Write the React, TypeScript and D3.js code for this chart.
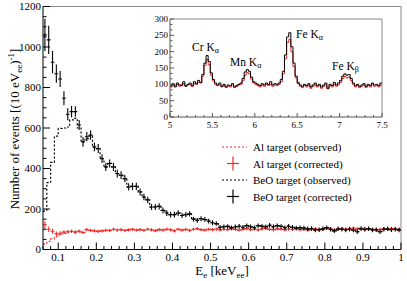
import * as d3 from 'd3'

// main spectrum: 10 eV bins from 0.06 to 1 keVee (bin centres)
const energies = d3.range(94).map((i) => +(0.065 + i * 0.01).toFixed(3))

const beoCorrected = [
  1060, 1035, 925, 868, 842, 747, 668, 681, 681, 615,
  532, 557, 565, 507, 499, 449, 408, 425, 408, 375,
  367, 350, 309, 312, 312, 284, 259, 245, 210, 210,
  213, 193, 180, 172, 172, 180, 168, 172, 176, 150,
  144, 152, 148, 140, 132, 128, 110, 112, 114, 108,
  112, 115, 110, 118, 112, 108, 118, 115, 112, 120,
  112, 118, 114, 108, 115, 110, 106, 108, 106, 102,
  104, 96, 98, 102, 108, 100, 92, 102, 100, 96,
  100, 96, 88, 104, 100, 102, 96, 98, 88, 100,
  102, 98, 100, 96,
]
const beoErrors = [
  80, 70, 55, 45, 40, 35, 30, 28, 26, 25,
  24, 23, 23, 22, 22, 21, 20, 20, 20, 19,
  19, 18, 18, 18, 18, 17, 16, 16, 15, 15,
  15, 14, 14, 14, 14, 14, 13, 13, 13, 12,
  12, 12, 12, 12, 12, 11, 11, 11, 11, 11,
  11, 11, 11, 11, 11, 11, 11, 11, 11, 11,
  11, 11, 11, 11, 11, 11, 11, 11, 11, 11,
  11, 11, 11, 11, 11, 11, 11, 11, 11, 11,
  11, 11, 11, 11, 11, 11, 11, 11, 11, 11,
  11, 11, 11, 11,
]
const beoObserved = [
  190, 330, 430, 560, 598, 600, 605, 640, 648, 600,
  530, 548, 560, 505, 497, 449, 408, 425, 408, 375,
  367, 350, 309, 312, 312, 284, 259, 245, 210, 210,
  213, 193, 180, 172, 172, 180, 168, 172, 176, 150,
  144, 152, 148, 140, 132, 128, 110, 112, 114, 108,
  112, 115, 110, 118, 112, 108, 118, 115, 112, 120,
  112, 118, 114, 108, 115, 110, 106, 108, 106, 102,
  104, 96, 98, 102, 108, 100, 92, 102, 100, 96,
  100, 96, 88, 104, 100, 102, 96, 98, 88, 100,
  102, 98, 100, 96,
]
const alCorrected = [
  122, 100, 90, 78, 80, 86, 88, 90, 86, 90,
  84, 98, 94, 92, 90, 92, 95, 94, 100, 96,
  98, 94, 97, 100, 96, 98, 95, 100, 97, 93,
  98, 96, 100, 97, 92, 100, 96, 99, 94, 100,
  103, 98, 96, 100, 98, 101, 97, 100, 98, 102,
  99, 96, 100, 103, 98, 100, 97, 101, 104, 99,
  98, 102, 100, 97, 101, 99, 103, 98, 100, 96,
  99, 102, 98, 100, 104, 101, 97, 100, 102, 99,
  104, 106, 102, 100, 98, 103, 100, 97, 100, 102,
  99, 104, 101, 100,
]
const alErrors = [
  18, 14, 12, 11, 10, 9, 9, 9, 9, 9,
  8, 8, 8, 8, 8, 8, 8, 8, 8, 8,
  8, 8, 8, 8, 8, 8, 8, 8, 8, 8,
  8, 8, 8, 8, 8, 8, 8, 8, 8, 8,
  8, 8, 8, 8, 8, 8, 8, 8, 8, 8,
  8, 8, 8, 8, 8, 8, 8, 8, 8, 8,
  8, 8, 8, 8, 8, 8, 8, 8, 8, 8,
  8, 8, 8, 8, 8, 8, 8, 8, 8, 8,
  8, 8, 8, 8, 8, 8, 8, 8, 8, 8,
  8, 8, 8, 8,
]
const alObserved = [
  28, 40, 52, 64, 72, 80, 86, 90, 86, 90,
  84, 98, 94, 92, 90, 92, 95, 94, 100, 96,
  98, 94, 97, 100, 96, 98, 95, 100, 97, 93,
  98, 96, 100, 97, 92, 100, 96, 99, 94, 100,
  103, 98, 96, 100, 98, 101, 97, 100, 98, 102,
  99, 96, 100, 103, 98, 100, 97, 101, 104, 99,
  98, 102, 100, 97, 101, 99, 103, 98, 100, 96,
  99, 102, 98, 100, 104, 101, 97, 100, 102, 99,
  104, 106, 102, 100, 98, 103, 100, 97, 100, 102,
  99, 104, 101, 100,
]

// inset: 25 eV bins from 5 to 7.5 keV (low edges)
const insetEdges = d3.range(100).map((i) => +(5 + i * 0.025).toFixed(3))
const insetBlack = [
  95, 102, 92, 104, 98, 96, 108, 94, 100, 104,
  96, 108, 102, 112, 106, 130, 165, 188, 170, 135,
  115, 104, 98, 104, 94, 100, 92, 98, 96, 102,
  92, 96, 100, 104, 118, 138, 145, 140, 122, 108,
  104, 100, 96, 102, 98, 104, 100, 108, 98, 102,
  100, 104, 115, 140, 190, 245, 258, 215, 165, 125,
  105, 98, 94, 100, 96, 102, 92, 98, 104, 96,
  100, 92, 98, 104, 88, 100, 96, 106, 98, 104,
  112, 125, 132, 128, 130, 118, 104, 96, 100, 94,
  98, 102, 94, 100, 96, 104, 98, 100, 96, 104,
]
const insetRed = [
  92, 98, 96, 100, 94, 100, 102, 96, 98, 100,
  94, 102, 100, 106, 104, 125, 158, 176, 160, 128,
  110, 100, 96, 98, 92, 96, 90, 94, 92, 98,
  90, 94, 98, 100, 112, 128, 136, 132, 116, 104,
  100, 96, 92, 98, 94, 100, 96, 100, 94, 98,
  96, 100, 108, 132, 178, 228, 238, 200, 155, 120,
  102, 94, 90, 96, 92, 98, 88, 94, 98, 92,
  96, 88, 94, 98, 86, 96, 92, 100, 94, 98,
  106, 118, 124, 120, 122, 112, 100, 92, 96, 90,
  94, 98, 90, 96, 92, 100, 94, 96, 92, 98,
]

const xTicks = [0.1, 0.2, 0.3, 0.4, 0.5, 0.6, 0.7, 0.8, 0.9, 1]
const xTickLabels = ['0.1', '0.2', '0.3', '0.4', '0.5', '0.6', '0.7', '0.8', '0.9', '1']
const yTicks = [0, 200, 400, 600, 800, 1000, 1200]
const insetXTicks = [5, 5.5, 6, 6.5, 7, 7.5]
const insetXLabels = ['5', '5.5', '6', '6.5', '7', '7.5']
const insetYTicks = [0, 50, 100, 150, 200, 250, 300]

const RED = '#ee2a2a'
const FONT = 'Liberation Serif, Times New Roman, DejaVu Serif, serif'

const W = 407
const H = 281

export default function App() {
  const x = d3.scaleLinear().domain([0.06, 1]).range([43, 401])
  const y = d3.scaleLinear().domain([0, 1200]).range([249.5, 6.5])
  const [x0, x1] = x.range()
  const [y0, y1] = y.range()

  const ix = d3.scaleLinear().domain([5, 7.5]).range([170, 382])
  const iy = d3.scaleLinear().domain([0, 300]).range([117, 19])

  const half = 0.005
  const stepLine = (vals: number[]) =>
    d3.line<number>()
      .x((_, i) => x(i < vals.length ? energies[i] - half : energies[vals.length - 1] + half))
      .y((_, i) => y(vals[Math.min(i, vals.length - 1)]))
      .curve(d3.curveStepAfter)([...vals, vals[vals.length - 1]])

  const insetLine = (vals: number[]) =>
    d3.line<number>()
      .x((_, i) => ix(i < vals.length ? insetEdges[i] : 7.5))
      .y((_, i) => iy(vals[Math.min(i, vals.length - 1)]))
      .curve(d3.curveStepAfter)([...vals, vals[vals.length - 1]])

  const crosses = (vals: number[], errs: number[], color: string, sw: number) =>
    vals.map((v, i) => (
      <g key={i} stroke={color} strokeWidth={sw}>
        <line x1={x(energies[i] - half)} x2={x(energies[i] + half)} y1={y(v)} y2={y(v)} />
        <line x1={x(energies[i])} x2={x(energies[i])} y1={y(v - errs[i])} y2={y(v + errs[i])} />
      </g>
    ))

  const xMinor = d3.range(0.06, 1.0001, 0.02).filter((t) => !xTicks.some((m) => Math.abs(m - t) < 1e-6))
  const yMinor = d3.range(0, 1201, 50).filter((t) => t % 200 !== 0)
  const ixMinor = d3.range(5, 7.5001, 0.1).filter((t) => !insetXTicks.some((m) => Math.abs(m - t) < 1e-6))
  const iyMinor = d3.range(0, 301, 50 / 3).filter((t) => Math.abs(t / 50 - Math.round(t / 50)) > 1e-6)

  const legend = [
    { label: 'Al target (observed)', color: RED, kind: 'line' },
    { label: 'Al target (corrected)', color: RED, kind: 'cross' },
    { label: 'BeO target (observed)', color: '#000', kind: 'line' },
    { label: 'BeO target (corrected)', color: '#000', kind: 'cross' },
  ]

  return (
    <svg width={W} height={H} style={{ position: 'absolute', left: 0, top: 0, background: '#fff', fontFamily: FONT }}>
      <defs>
        <clipPath id="plot">
          <rect x={x0} y={y1} width={x1 - x0} height={y0 - y1} />
        </clipPath>
      </defs>

      {/* frame */}
      <line x1={x0} x2={x1} y1={y1} y2={y1} stroke="#888" />
      <line x1={x1} x2={x1} y1={y1} y2={y0} stroke="#888" />

      <g clipPath="url(#plot)">
        <path d={stepLine(alObserved) ?? ''} fill="none" stroke={RED} strokeWidth={1.2} strokeDasharray="2,2" />
        {crosses(alCorrected, alErrors, RED, 1.1)}
        <path d={stepLine(beoObserved) ?? ''} fill="none" stroke="#000" strokeWidth={1.2} strokeDasharray="2,2" />
        {crosses(beoCorrected, beoErrors, '#000', 1.1)}
      </g>

      {/* axes */}
      <line x1={x0} x2={x1} y1={y0} y2={y0} stroke="#000" />
      <line x1={x0} x2={x0} y1={y0} y2={y1} stroke="#000" />
      {xTicks.map((t, i) => (
        <g key={t}>
          <line x1={x(t)} x2={x(t)} y1={y0} y2={y0 - 7} stroke="#000" />
          <text x={x(t)} y={y0 + 11} fontSize={11} textAnchor="middle">{xTickLabels[i]}</text>
        </g>
      ))}
      {xMinor.map((t) => (
        <line key={t} x1={x(t)} x2={x(t)} y1={y0} y2={y0 - 3.5} stroke="#000" />
      ))}
      {yTicks.map((t) => (
        <g key={t}>
          <line x1={x0} x2={x0 + 7} y1={y(t)} y2={y(t)} stroke="#000" />
          <text x={x0 - 2} y={y(t) + 3.8} fontSize={11} textAnchor="end">{t}</text>
        </g>
      ))}
      {yMinor.map((t) => (
        <line key={t} x1={x0} x2={x0 + 3.5} y1={y(t)} y2={y(t)} stroke="#000" />
      ))}

      <text transform="translate(19,129) rotate(-90)" fontSize={13} textAnchor="middle">
        Number of events [(10 eV<tspan fontSize={9} dy={3}>ee</tspan>
        <tspan dy={-3}>)</tspan><tspan fontSize={9} dy={-5}>-1</tspan><tspan dy={5}>]</tspan>
      </text>
      <text x={222} y={275} fontSize={13} textAnchor="middle">
        E<tspan fontSize={9} dy={3}>e</tspan><tspan dy={-3}> [keV</tspan>
        <tspan fontSize={9} dy={3}>ee</tspan><tspan dy={-3}>]</tspan>
      </text>

      {/* legend */}
      {legend.map((d, i) => {
        const ly = 147 + i * 16.5
        return (
          <g key={d.label}>
            {d.kind === 'line' ? (
              <line x1={222} x2={247} y1={ly} y2={ly} stroke={d.color} strokeWidth={1.2} strokeDasharray="2,2" />
            ) : (
              <g stroke={d.color} strokeWidth={1.2}>
                <line x1={227} x2={239} y1={ly} y2={ly} />
                <line x1={233} x2={233} y1={ly - 7} y2={ly + 7} />
              </g>
            )}
            <text x={253} y={ly + 4} fontSize={11}>{d.label}</text>
          </g>
        )
      })}

      {/* inset */}
      <g>
        <line x1={170} x2={382} y1={19} y2={19} stroke="#888" />
        <line x1={382} x2={382} y1={19} y2={117} stroke="#888" />
        <path d={insetLine(insetRed) ?? ''} fill="none" stroke={RED} strokeWidth={1} />
        <path d={insetLine(insetBlack) ?? ''} fill="none" stroke="#000" strokeWidth={1} />
        <line x1={170} x2={382} y1={117} y2={117} stroke="#555" />
        <line x1={170} x2={170} y1={19} y2={117} stroke="#555" />
        {insetXTicks.map((t, i) => (
          <g key={t}>
            <line x1={ix(t)} x2={ix(t)} y1={117} y2={113} stroke="#555" />
            <text x={ix(t)} y={128} fontSize={9} textAnchor="middle">{insetXLabels[i]}</text>
          </g>
        ))}
        {ixMinor.map((t) => (
          <line key={t} x1={ix(t)} x2={ix(t)} y1={117} y2={115} stroke="#555" />
        ))}
        {insetYTicks.map((t) => (
          <g key={t}>
            <line x1={170} x2={174} y1={iy(t)} y2={iy(t)} stroke="#555" />
            <text x={168} y={iy(t) + 3} fontSize={9} textAnchor="end">{t}</text>
          </g>
        ))}
        {iyMinor.map((t) => (
          <line key={t} x1={170} x2={172.5} y1={iy(t)} y2={iy(t)} stroke="#555" />
        ))}
        <text x={192} y={51} fontSize={11.5}>Cr K<tspan fontSize={8} dy={2}>α</tspan></text>
        <text x={230} y={66} fontSize={11.5}>Mn K<tspan fontSize={8} dy={2}>α</tspan></text>
        <text x={296} y={38} fontSize={11.5}>Fe K<tspan fontSize={8} dy={2}>α</tspan></text>
        <text x={332} y={70} fontSize={11.5}>Fe K<tspan fontSize={8} dy={2}>β</tspan></text>
      </g>
    </svg>
  )
}
